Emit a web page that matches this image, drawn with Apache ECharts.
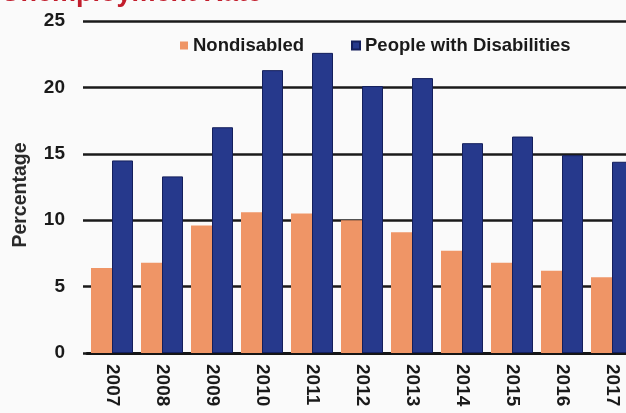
<!DOCTYPE html>
<html>
<head>
<meta charset="utf-8">
<style>
  html, body { margin: 0; padding: 0; background: #fafafa; overflow: hidden; }
  /* the canvas is a little wider than the page, so the last bar is cut off at the edge */
  #chart { width: 637px; height: 413px; }
</style>
<script src="https://cdn.jsdelivr.net/npm/echarts@6/dist/echarts.min.js"></script>
</head>
<body>
<div id="chart"></div>
<script>
// Annual unemployment rate, percent
const years = ['2007', '2008', '2009', '2010', '2011', '2012', '2013', '2014', '2015', '2016', '2017'];
const nondisabled = [6.4, 6.8, 9.6, 10.6, 10.5, 10.0, 9.1, 7.7, 6.8, 6.2, 5.7];
const withDisabilities = [14.5, 13.3, 17.0, 21.3, 22.6, 20.1, 20.7, 15.8, 16.3, 14.9, 14.4];
const seriesNames = ['Nondisabled', 'People with Disabilities'];

const font = 'Liberation Sans, Arial, sans-serif';
const chart = echarts.init(document.getElementById('chart'));

chart.setOption({
  backgroundColor: '#fafafa',
  animation: false,
  graphic: [{
    type: 'text',
    left: 1,
    top: -20,
    style: {
      text: 'Unemployment Rate',
      font: 'bold 27px ' + font,
      fill: '#c21d2c'
    }
  }],
  legend: {
    left: 175,
    top: 31,
    itemWidth: 8,
    itemHeight: 8,
    itemGap: 47,
    icon: 'rect',
    textStyle: { fontFamily: font, fontWeight: 'bold', fontSize: 18.5, color: '#1a1a1a' },
    data: seriesNames
  },
  grid: { left: 87, right: 0, top: 21, bottom: 60, containLabel: false },
  xAxis: {
    type: 'category',
    data: years,
    axisLine: { lineStyle: { color: '#151515', width: 3 } },
    axisTick: { alignWithLabel: true, length: 5, lineStyle: { color: '#151515', width: 2 } },
    axisLabel: {
      rotate: -90,
      margin: 11,
      fontFamily: font,
      fontWeight: 'bold',
      fontSize: 19,
      color: '#1a1a1a'
    }
  },
  yAxis: {
    type: 'value',
    min: 0,
    max: 25,
    interval: 5,
    name: 'Percentage',
    nameLocation: 'middle',
    nameRotate: 90,
    nameGap: 56,
    nameTextStyle: {
      fontFamily: font,
      fontWeight: 'bold',
      fontSize: 19.5,
      color: '#2a2a2a',
      padding: [0, 16, 0, 0]
    },
    axisLine: { show: false },
    axisTick: { show: true, length: 4, lineStyle: { color: '#1a1a1a', width: 2.5 } },
    axisLabel: {
      margin: 22,
      fontFamily: font,
      fontWeight: 'bold',
      fontSize: 19,
      color: '#1a1a1a'
    },
    splitLine: { lineStyle: { color: '#1a1a1a', width: 2.5 } }
  },
  series: [
    {
      name: seriesNames[0],
      type: 'bar',
      data: nondisabled,
      barWidth: 21,
      barGap: '0%',
      itemStyle: { color: '#ef9566' }
    },
    {
      name: seriesNames[1],
      type: 'bar',
      data: withDisabilities,
      barWidth: 21,
      barGap: '0%',
      itemStyle: { color: '#26398c', borderColor: '#141f5c', borderWidth: 1 }
    }
  ]
});
</script>
</body>
</html>
